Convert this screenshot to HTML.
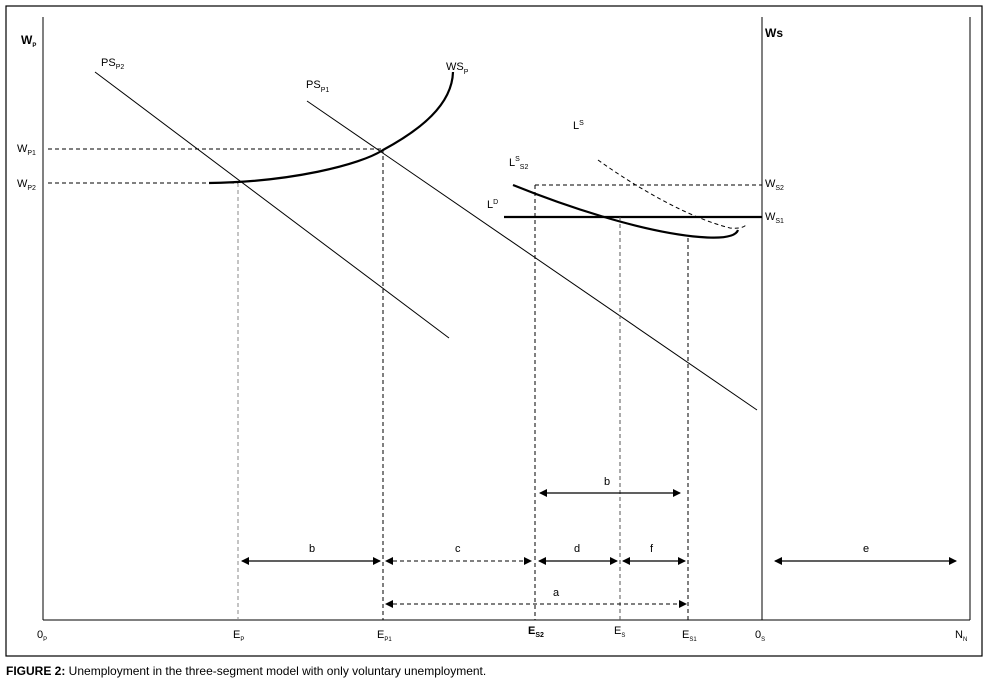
<!DOCTYPE html>
<html><head><meta charset="utf-8"><style>
body{margin:0;background:#fff}
svg{display:block;font-family:"Liberation Sans",sans-serif}
</style></head><body>
<svg width="986" height="680" viewBox="0 0 986 680">
<defs>
<marker id="ar" markerWidth="8" markerHeight="8" refX="7" refY="4" orient="auto-start-reverse" markerUnits="userSpaceOnUse"><path d="M0,0 L8,4 L0,8z" fill="#000"/></marker>
</defs>
<rect x="6" y="6" width="976" height="650" fill="none" stroke="#000" stroke-width="1.2"/>
<g stroke="#000" fill="none">
<line x1="43" y1="17" x2="43" y2="620"/>
<line x1="43" y1="620" x2="970" y2="620"/>
<line x1="970" y1="17" x2="970" y2="620"/>
<line x1="762" y1="17" x2="762" y2="620"/>
<line x1="95" y1="72" x2="449" y2="338"/>
<line x1="307" y1="101" x2="757" y2="410"/>
<path d="M209,183 C290,182 360,165 383,150 C420,130 452,105 453,72" stroke-width="2.2"/>
<path d="M513,185 C560,204 640,232 700,237 C725,239 736,236 738,230" stroke-width="2.2"/>
<path d="M598,160 C640,190 690,218 730,228 C740,229 744,227 746,225" stroke-dasharray="4,3"/>
<line x1="504" y1="217" x2="762" y2="217" stroke-width="2.2"/>
<g stroke-dasharray="4,3">
<line x1="48" y1="149" x2="383" y2="149"/>
<line x1="48" y1="183" x2="238" y2="183"/>
<line x1="535" y1="185" x2="762" y2="185"/>
<line x1="238" y1="183" x2="238" y2="620" stroke="#888"/>
<line x1="383" y1="149" x2="383" y2="620"/>
<line x1="535" y1="185" x2="535" y2="620"/>
<line x1="620" y1="217" x2="620" y2="620" stroke="#555"/>
<line x1="688" y1="238" x2="688" y2="620"/>
<line x1="386" y1="561" x2="531" y2="561" marker-start="url(#ar)" marker-end="url(#ar)"/>
<line x1="386" y1="604" x2="686" y2="604" marker-start="url(#ar)" marker-end="url(#ar)"/>
</g>
<g stroke-width="1.3">
<line x1="540" y1="493" x2="680" y2="493" marker-start="url(#ar)" marker-end="url(#ar)"/>
<line x1="242" y1="561" x2="380" y2="561" marker-start="url(#ar)" marker-end="url(#ar)"/>
<line x1="539" y1="561" x2="617" y2="561" marker-start="url(#ar)" marker-end="url(#ar)"/>
<line x1="623" y1="561" x2="685" y2="561" marker-start="url(#ar)" marker-end="url(#ar)"/>
<line x1="775" y1="561" x2="956" y2="561" marker-start="url(#ar)" marker-end="url(#ar)"/>
</g>
</g>
<g font-size="11" fill="#000">
<text x="21" y="44" font-weight="bold" font-size="12">W<tspan font-size="6" dy="3">P</tspan></text>
<text x="101" y="66">PS<tspan font-size="7" dy="3">P2</tspan></text>
<text x="306" y="88">PS<tspan font-size="7" dy="4">P1</tspan></text>
<text x="446" y="70">WS<tspan font-size="7" dy="4">P</tspan></text>
<text x="17" y="152">W<tspan font-size="7" dy="3">P1</tspan></text>
<text x="17" y="187">W<tspan font-size="7" dy="3">P2</tspan></text>
<text x="765" y="37" font-weight="bold" font-size="12">Ws</text>
<text x="573" y="129">L<tspan font-size="7" dy="-4">S</tspan></text>
<text x="509" y="166">L<tspan font-size="7" dy="-5">S</tspan><tspan font-size="7" dy="8">S2</tspan></text>
<text x="487" y="208">L<tspan font-size="7" dy="-4">D</tspan></text>
<text x="765" y="187">W<tspan font-size="7" dy="3">S2</tspan></text>
<text x="765" y="220">W<tspan font-size="7" dy="3">S1</tspan></text>
<text x="604" y="485">b</text>
<text x="309" y="552">b</text>
<text x="455" y="552">c</text>
<text x="574" y="552">d</text>
<text x="650" y="552">f</text>
<text x="863" y="552">e</text>
<text x="553" y="596">a</text>
<text x="37" y="638">0<tspan font-size="6" dy="3">P</tspan></text>
<text x="233" y="638">E<tspan font-size="6" dy="3">P</tspan></text>
<text x="377" y="638">E<tspan font-size="6" dy="3">P1</tspan></text>
<text x="528" y="634" font-weight="bold">E<tspan font-size="7" dy="3">S2</tspan></text>
<text x="614" y="634">E<tspan font-size="6" dy="3">S</tspan></text>
<text x="682" y="638">E<tspan font-size="6" dy="3">S1</tspan></text>
<text x="755" y="638">0<tspan font-size="6" dy="3">S</tspan></text>
<text x="955" y="638">N<tspan font-size="6" dy="3">N</tspan></text>
<text x="6" y="675" font-size="12"><tspan font-weight="bold">FIGURE 2:</tspan> Unemployment in the three-segment model with only voluntary unemployment.</text>
</g>
</svg>
</body></html>
